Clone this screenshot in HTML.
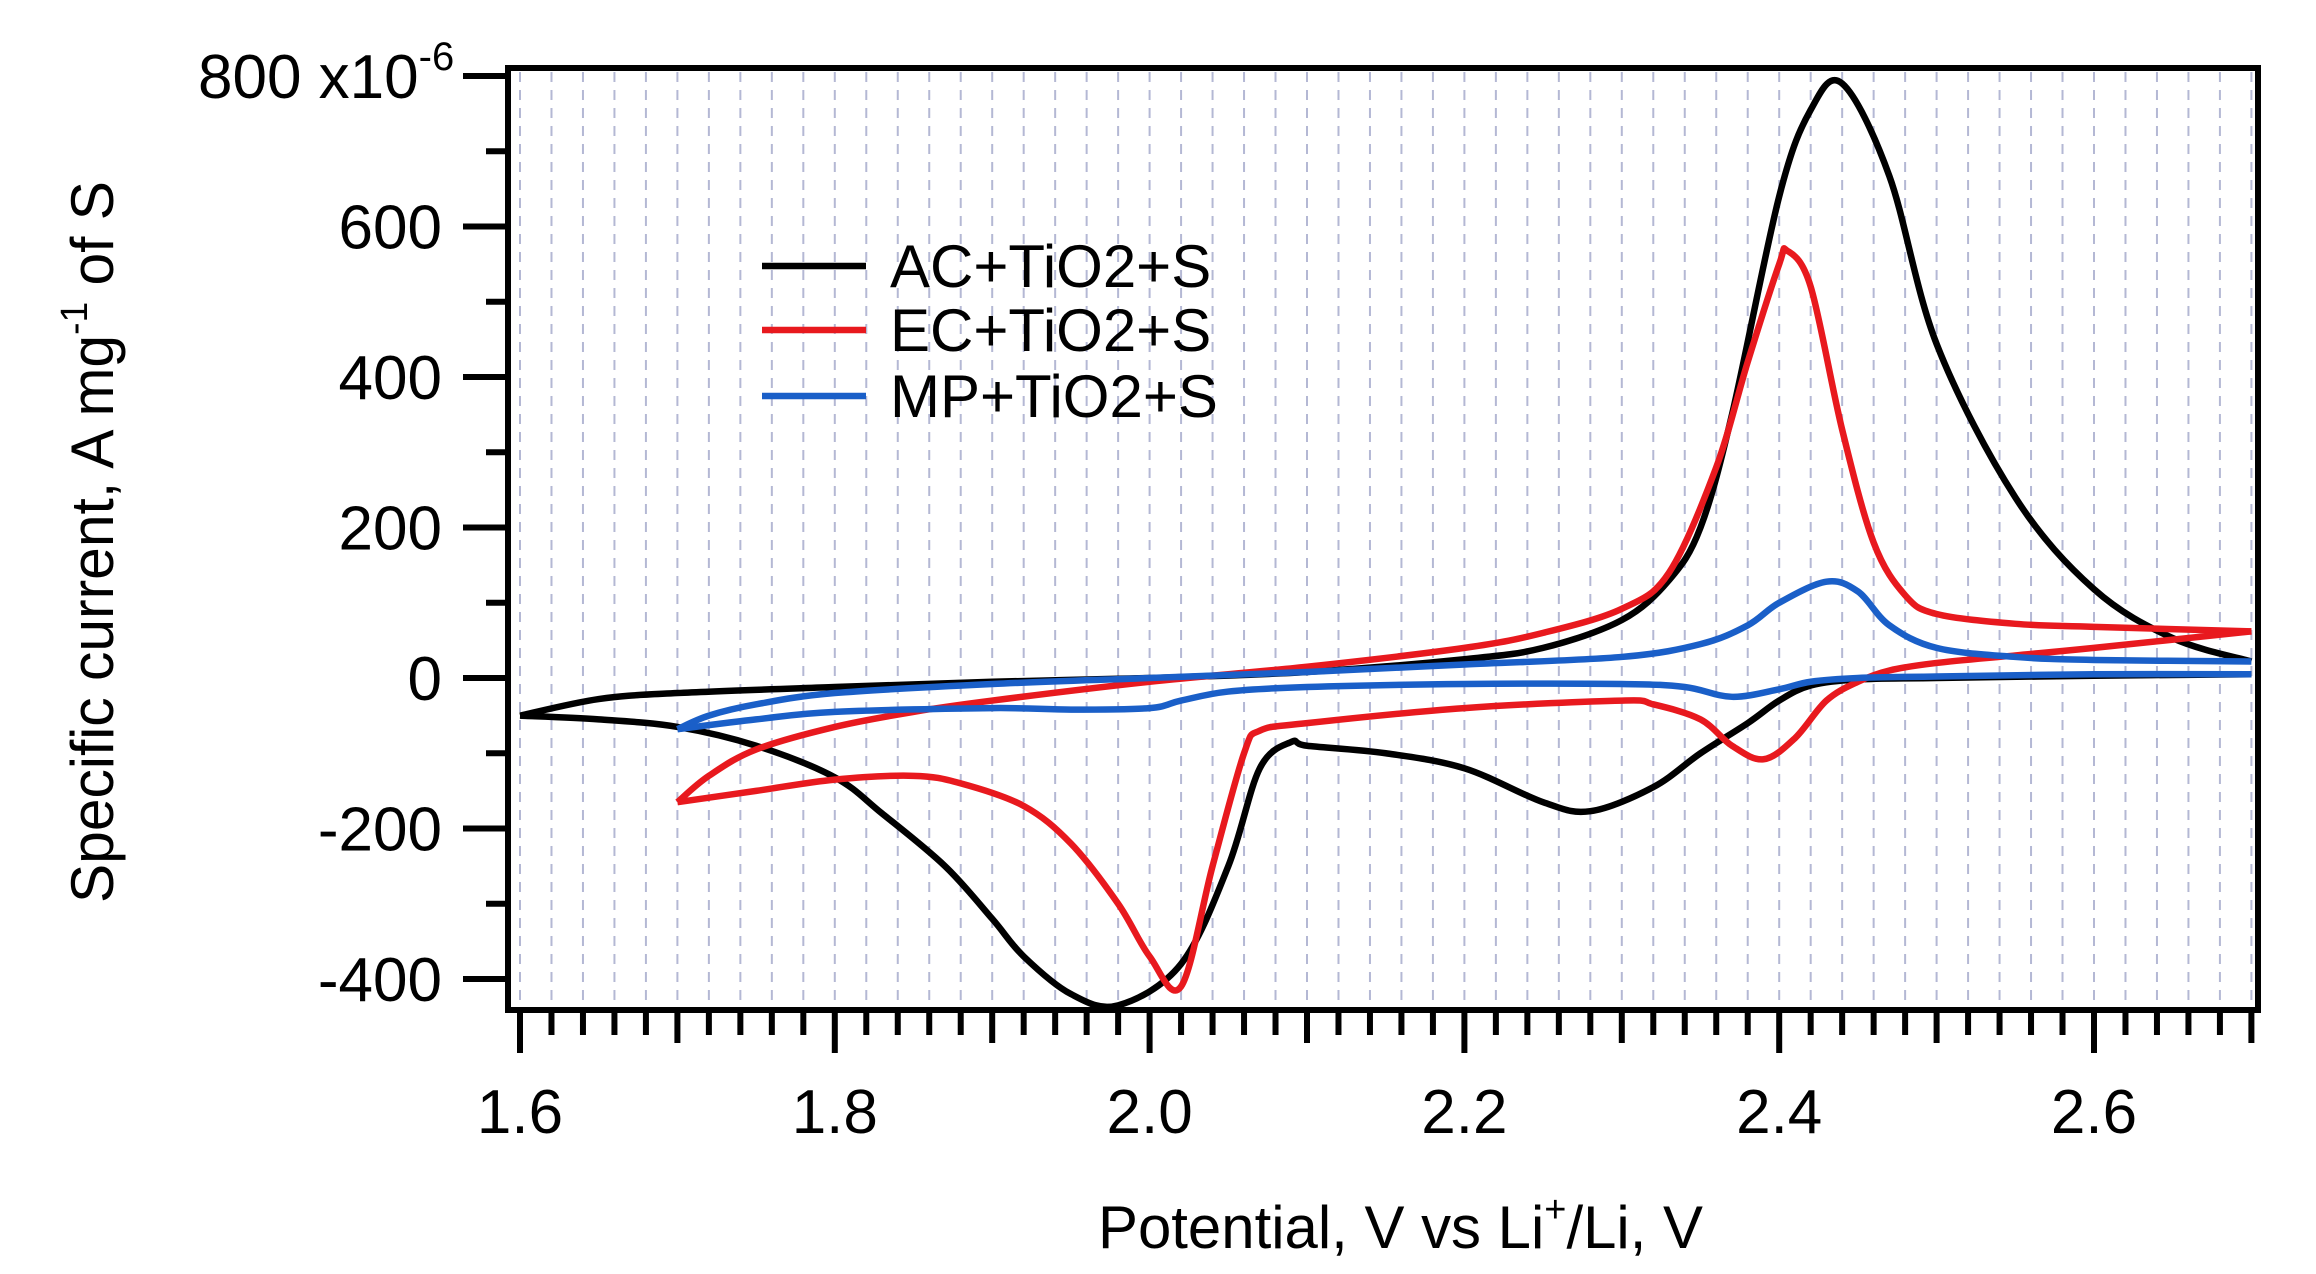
<!DOCTYPE html>
<html><head><meta charset="utf-8"><style>
html,body{margin:0;padding:0;background:#fff;}
svg{display:block;font-family:"Liberation Sans",Arial,sans-serif;}
</style></head><body>
<svg id="chart" width="2316" height="1274" viewBox="0 0 2316 1274" xmlns="http://www.w3.org/2000/svg">
<g id="grid"></g>
<g id="series"></g>
<rect x="508" y="68" width="1750" height="942" fill="none" stroke="#000" stroke-width="6"/>
<g id="axes"></g>
<g font-size="60">
<g><line x1="762" y1="266" x2="866" y2="266" stroke="#000" stroke-width="6.5"/><text x="890" y="287">AC+TiO2+S</text></g>
<g><line x1="762" y1="330" x2="866" y2="330" stroke="#e8191e" stroke-width="6.5"/><text x="890" y="351">EC+TiO2+S</text></g>
<g><line x1="762" y1="396" x2="866" y2="396" stroke="#1a5fc8" stroke-width="6.5"/><text x="890" y="417">MP+TiO2+S</text></g>
</g>
<text x="1098" y="1248" font-size="60" textLength="605" lengthAdjust="spacingAndGlyphs">Potential, V vs Li<tspan dy="-26" font-size="38">+</tspan><tspan dy="26">/Li, V</tspan></text>
<text transform="translate(113,903) rotate(-90)" x="0" y="0" font-size="60" textLength="722" lengthAdjust="spacingAndGlyphs">Specific current, A mg<tspan dy="-26" font-size="38">-1</tspan><tspan dy="26"> of S</tspan></text>
</svg>
<script>
const xTicks=[1.6,1.8,2.0,2.2,2.4,2.6];
const yTicks=[-400,-200,0,200,400,600,800];
const acUpV=[1.6,1.65,1.7,1.8,1.9,2.0,2.1,2.2,2.25,2.3,2.33,2.35,2.37,2.4,2.42,2.44,2.47,2.5,2.55,2.6,2.65,2.7];
const acUpI=[-50,-28,-20,-12,-5,0,8,25,40,77,130,200,350,640,755,790,667,444,240,118,53,22];
const acDnV=[2.7,2.6,2.5,2.45,2.42,2.4,2.38,2.35,2.32,2.28,2.25,2.2,2.15,2.1,2.09,2.07,2.05,2.02,1.98,1.95,1.92,1.9,1.87,1.83,1.8,1.75,1.7,1.65,1.6];
const acDnI=[5,3,0,-2,-10,-30,-60,-100,-145,-177,-165,-120,-100,-90,-85,-120,-250,-380,-435,-420,-370,-320,-250,-180,-132,-90,-65,-55,-50];
const ecUpV=[1.7,1.72,1.75,1.8,1.85,1.9,2.0,2.1,2.2,2.25,2.3,2.33,2.36,2.38,2.4,2.405,2.42,2.44,2.46,2.48,2.5,2.55,2.6,2.7];
const ecUpI=[-165,-130,-95,-65,-45,-30,-5,15,40,60,92,140,280,420,550,568,520,330,180,110,85,72,68,62];
const ecDnV=[2.7,2.6,2.55,2.5,2.47,2.45,2.43,2.41,2.39,2.37,2.35,2.32,2.3,2.2,2.1,2.07,2.06,2.04,2.02,2.0,1.98,1.95,1.92,1.88,1.85,1.8,1.75,1.7];
const ecDnI=[62,40,30,20,10,-5,-30,-80,-108,-90,-55,-35,-30,-40,-60,-70,-100,-250,-410,-370,-300,-220,-170,-140,-130,-135,-150,-165];
const mpUpV=[1.7,1.72,1.75,1.8,1.9,2.0,2.1,2.2,2.3,2.35,2.38,2.4,2.43,2.45,2.47,2.5,2.55,2.6,2.7];
const mpUpI=[-68,-50,-35,-20,-8,0,8,18,28,45,70,100,128,115,70,40,28,24,22];
const mpDnV=[2.7,2.6,2.5,2.45,2.42,2.4,2.37,2.34,2.3,2.2,2.1,2.05,2.02,2.0,1.95,1.9,1.8,1.75,1.7];
const mpDnI=[5,5,2,0,-5,-15,-25,-12,-8,-8,-12,-18,-30,-40,-42,-40,-45,-55,-68];

const NS='http://www.w3.org/2000/svg';
const X=v=>520+(v-1.6)*1574;
const Y=i=>678-i*0.7525;
function mk(tag,attrs,parent){const e=document.createElementNS(NS,tag);for(const k in attrs)e.setAttribute(k,attrs[k]);parent.appendChild(e);return e;}
const grid=document.getElementById('grid'),axes=document.getElementById('axes'),series=document.getElementById('series');
for(let k=0;k<=55;k++){const v=1.6+k*0.02;if(v>2.701)break;
 const g=mk('line',{x1:X(v),x2:X(v),y1:72,y2:1006,stroke:'#b4b8d4','stroke-width':2,'stroke-dasharray':'10 8'},grid);
 
 
}
for(let k=0;k<=55;k++){const v=1.6+k*0.02;if(v>2.701)break;
 const major=k%10===0,mid=k%5===0;const len=major?45:(mid?35:27);
 const t=mk('line',{x1:X(v),x2:X(v),y1:1008,y2:1008+len,stroke:'#000','stroke-width':6},axes);
 
 
}
xTicks.forEach(v=>{const t=mk('text',{x:X(v),y:1133,'font-size':62,'text-anchor':'middle'},axes);t.textContent=v.toFixed(1);
 
 });
for(let i=-400;i<=800;i+=100){const major=i%200===0;
 const t=mk('line',{x1:major?463:486,x2:508,y1:Y(i),y2:Y(i),stroke:'#000','stroke-width':6},axes);
 
 }
yTicks.forEach(i=>{if(i===800)return;const t=mk('text',{x:442,y:Y(i)+22,'font-size':62,'text-anchor':'end'},axes);t.textContent=String(i);
 
 });
const yMaxLabel=mk('text',{x:198,y:Y(800)+22,'font-size':62},axes);


yMaxLabel.appendChild(document.createTextNode(String(yTicks[yTicks.length-1])+' x10'));
const sup=mk('tspan',{dy:-28,'font-size':40},yMaxLabel);
sup.textContent='-6';
function path(vs,is){const p=vs.map((v,k)=>[X(v),Y(is[k])]);let d='M'+p[0][0]+','+p[0][1];
 for(let k=0;k<p.length-1;k++){const p0=p[k-1]||p[k],p1=p[k],p2=p[k+1],p3=p[k+2]||p2;
  d+=' C'+(p1[0]+(p2[0]-p0[0])/6)+','+(p1[1]+(p2[1]-p0[1])/6)+' '+(p2[0]-(p3[0]-p1[0])/6)+','+(p2[1]-(p3[1]-p1[1])/6)+' '+p2[0]+','+p2[1];}
 return d;}
function draw(uv,ui,dv,di,col,name){
 const a=mk('path',{d:path(uv,ui),fill:'none',stroke:col,'stroke-width':6.5,'stroke-linejoin':'round'},series);
 
 
 const b=mk('path',{d:path(dv,di),fill:'none',stroke:col,'stroke-width':6.5,'stroke-linejoin':'round'},series);
 
 }
draw(acUpV,acUpI,acDnV,acDnI,'#000','series-ac');
draw(ecUpV,ecUpI,ecDnV,ecDnI,'#e8191e','series-ec');
draw(mpUpV,mpUpI,mpDnV,mpDnI,'#1a5fc8','series-mp');
</script>
</body></html>
